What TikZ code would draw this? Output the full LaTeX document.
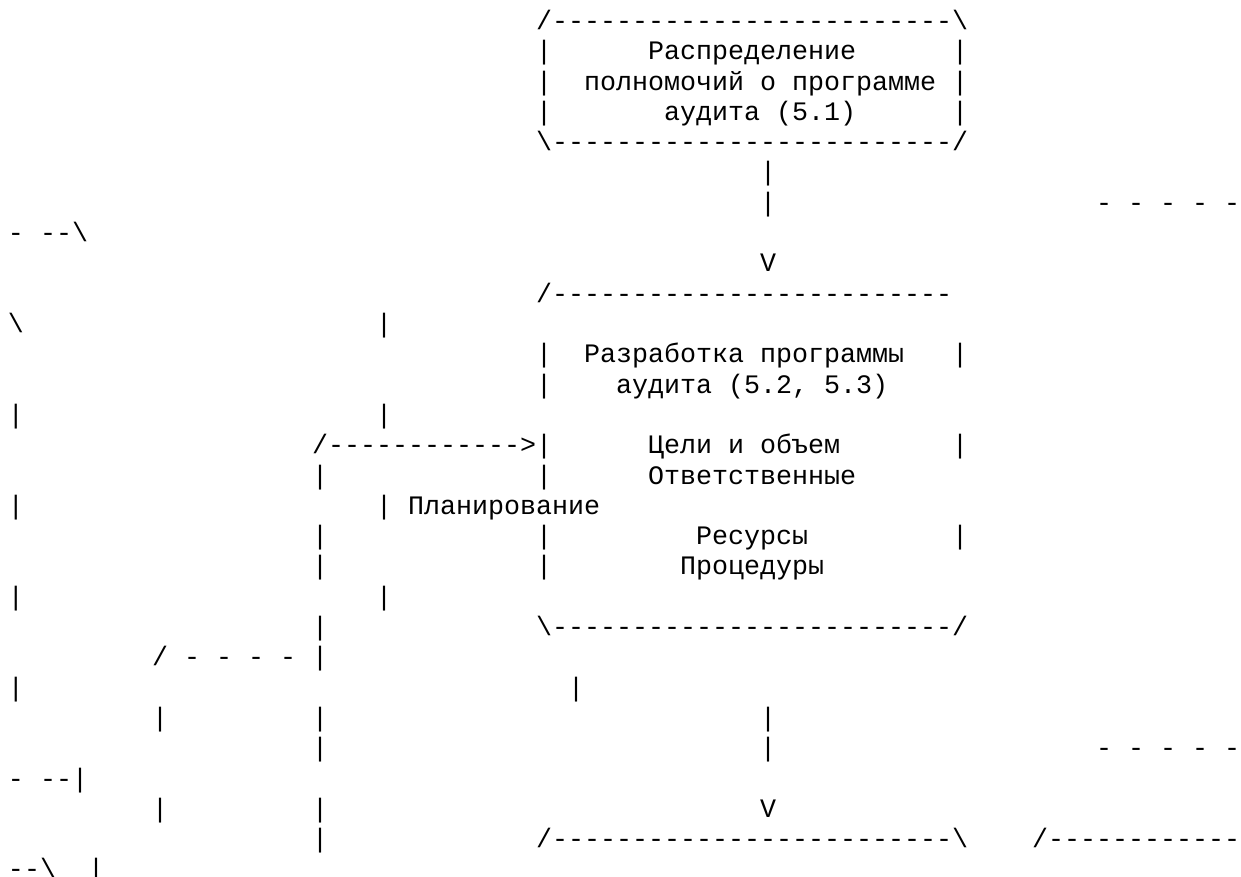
\documentclass[tikz,border=0pt]{standalone}
\usepackage{fontspec}
\setmonofont{Liberation Mono}
\usepackage{tikz}
\tikzset{
	ascii/.append style={
		anchor=base west,
		inner sep=0pt,
		outer sep=0pt,
		font={\ttfamily\fontsize{26.67pt}{30.3pt}\selectfont},
	},
}

\begin{document}
\begin{tikzpicture}[x=16pt, y=-30.3pt]
	\useasboundingbox[fill=white] (0pt,0pt) rectangle (1241pt,-877pt);

	\begin{scope}[shift={(8pt,0.8pt)}]
		% box 5.1
		\node(r1a)[ascii] at (33,1) {/-------------------------\textbackslash};
		\node(r2a)[ascii] at (33,2) {|};
		\node(r2b)[ascii] at (40,2) {Распределение};
		\node(r2c)[ascii] at (59,2) {|};
		\node(r3a)[ascii] at (33,3) {|};
		\node(r3b)[ascii] at (36,3) {полномочий о программе};
		\node(r3c)[ascii] at (59,3) {|};
		\node(r4a)[ascii] at (33,4) {|};
		\node(r4b)[ascii] at (41,4) {аудита (5.1)};
		\node(r4c)[ascii] at (59,4) {|};
		\node(r5a)[ascii] at (33,5) {\textbackslash-------------------------/};
		\node(r6a)[ascii] at (47,6) {|};
		\node(r7a)[ascii] at (47,7) {|};
		\node(r7b)[ascii] at (68,7) {- - - - -};
		\node(r8a)[ascii] at (0,8) {- --\textbackslash};
		\node(r9a)[ascii] at (47,9) {V};

		% box 5.2, 5.3
		\node(r10a)[ascii] at (33,10) {/-------------------------};
		\node(r11a)[ascii] at (0,11) {\textbackslash};
		\node(r11b)[ascii] at (23,11) {|};
		\node(r12a)[ascii] at (33,12) {|};
		\node(r12b)[ascii] at (36,12) {Разработка программы};
		\node(r12c)[ascii] at (59,12) {|};
		\node(r13a)[ascii] at (33,13) {|};
		\node(r13b)[ascii] at (38,13) {аудита (5.2, 5.3)};
		\node(r14a)[ascii] at (0,14) {|};
		\node(r14b)[ascii] at (23,14) {|};
		\node(r15a)[ascii] at (19,15) {/------------>|};
		\node(r15b)[ascii] at (40,15) {Цели и объем};
		\node(r15c)[ascii] at (59,15) {|};
		\node(r16a)[ascii] at (19,16) {|};
		\node(r16b)[ascii] at (33,16) {|};
		\node(r16c)[ascii] at (40,16) {Ответственные};
		\node(r17a)[ascii] at (0,17) {|};
		\node(r17b)[ascii] at (23,17) {| Планирование};
		\node(r18a)[ascii] at (19,18) {|};
		\node(r18b)[ascii] at (33,18) {|};
		\node(r18c)[ascii] at (43,18) {Ресурсы};
		\node(r18d)[ascii] at (59,18) {|};
		\node(r19a)[ascii] at (19,19) {|};
		\node(r19b)[ascii] at (33,19) {|};
		\node(r19c)[ascii] at (42,19) {Процедуры};
		\node(r20a)[ascii] at (0,20) {|};
		\node(r20b)[ascii] at (23,20) {|};
		\node(r21a)[ascii] at (19,21) {|};
		\node(r21b)[ascii] at (33,21) {\textbackslash-------------------------/};

		% lower part
		\node(r22a)[ascii] at (9,22) {/ - - - - |};
		\node(r23a)[ascii] at (0,23) {|};
		\node(r23b)[ascii] at (35,23) {|};
		\node(r24a)[ascii] at (9,24) {|};
		\node(r24b)[ascii] at (19,24) {|};
		\node(r24c)[ascii] at (47,24) {|};
		\node(r25a)[ascii] at (19,25) {|};
		\node(r25b)[ascii] at (47,25) {|};
		\node(r25c)[ascii] at (68,25) {- - - - -};
		\node(r26a)[ascii] at (0,26) {- --|};
		\node(r27a)[ascii] at (9,27) {|};
		\node(r27b)[ascii] at (19,27) {|};
		\node(r27c)[ascii] at (47,27) {V};
		\node(r28a)[ascii] at (19,28) {|};
		\node(r28b)[ascii] at (33,28) {/-------------------------\textbackslash};
		\node(r28c)[ascii] at (64,28) {/------------};
		\node(r29a)[ascii] at (0,29) {--\textbackslash};
		\node(r29b)[ascii] at (5,29) {|};
	\end{scope}
\end{tikzpicture}
\end{document}
